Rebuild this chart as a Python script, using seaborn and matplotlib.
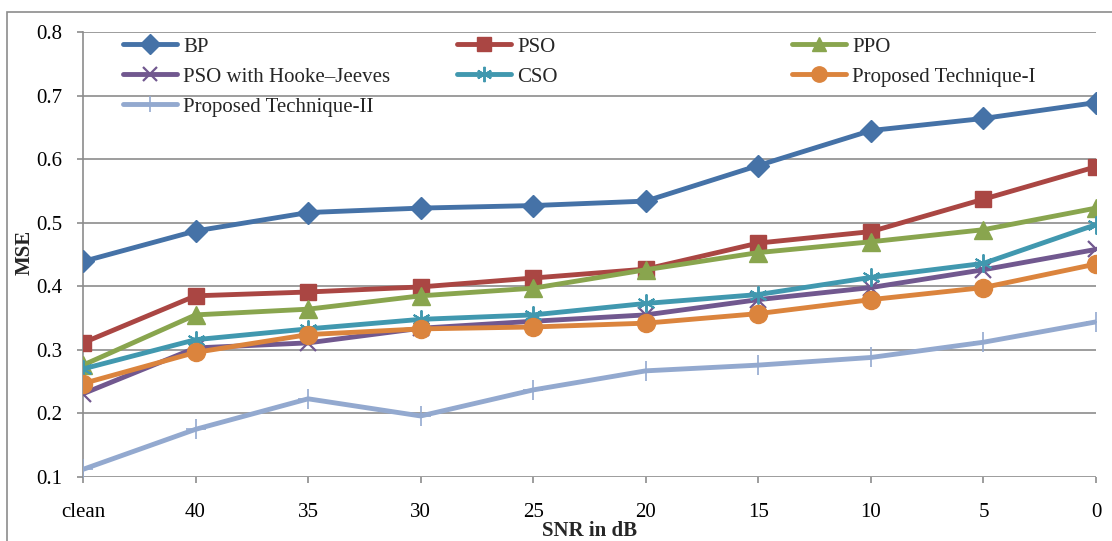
import matplotlib
matplotlib.use("Agg")
import matplotlib.pyplot as plt
import seaborn as sns
import numpy as np
import pandas as pd
from matplotlib.patches import Rectangle

categories = ["clean", "40", "35", "30", "25", "20", "15", "10", "5", "0"]
bp = [0.439, 0.487, 0.516, 0.523, 0.527, 0.534, 0.590, 0.645, 0.664, 0.689]
pso = [0.311, 0.385, 0.391, 0.399, 0.413, 0.427, 0.468, 0.486, 0.537, 0.588]
ppo = [0.276, 0.355, 0.364, 0.385, 0.397, 0.426, 0.453, 0.470, 0.489, 0.523]
psohj = [0.231, 0.303, 0.311, 0.334, 0.345, 0.355, 0.379, 0.398, 0.426, 0.458]
cso = [0.270, 0.316, 0.333, 0.348, 0.355, 0.373, 0.387, 0.414, 0.436, 0.497]
pt1 = [0.247, 0.296, 0.324, 0.333, 0.336, 0.342, 0.357, 0.379, 0.398, 0.435]
pt2 = [0.112, 0.175, 0.223, 0.196, 0.237, 0.267, 0.276, 0.288, 0.312, 0.344]

names = ["BP", "PSO", "PPO", "PSO with Hooke\u2013Jeeves", "CSO",
         "Proposed Technique-I", "Proposed Technique-II"]
series = [bp, pso, ppo, psohj, cso, pt1, pt2]
colors = ["#4572A7", "#AA4643", "#89A54E", "#71588F", "#4198AF", "#DB843D", "#93A9CF"]
markers = ["D", "s", "^", "x", (6, 2, 0), "o", "+"]
msizes = [11.5, 12, 12.5, 12, 13, 13, 14]
mews = [1, 1, 1, 1.6, 1.4, 1, 1.2]

FS = 15
sns.set_theme(style="white")
plt.rcParams["font.family"] = ["Liberation Serif", "DejaVu Serif"]
plt.rcParams["font.size"] = FS

fig = plt.figure(figsize=(11.12, 5.41), dpi=100)
ax = fig.add_axes([83/1112, 1-477/541, (1096-83)/1112, (477-32)/541])

xi = np.arange(len(categories))
for name, vals, c, m, ms, mw in zip(names, series, colors, markers, msizes, mews):
    df = pd.DataFrame({"x": xi, "y": vals})
    sns.lineplot(data=df, x="x", y="y", ax=ax, color=c, marker=m, markersize=ms,
                 markeredgecolor=c, markerfacecolor=c, markeredgewidth=mw,
                 linewidth=3.5, label=name, zorder=3)

ax.set_xlim(0, len(categories) - 1)
ax.set_ylim(0.1, 0.8)
ax.set_yticks(np.arange(0.1, 0.81, 0.1))
ax.set_yticklabels([f"{v:.1f}" for v in np.arange(0.1, 0.81, 0.1)])
ax.set_xticks(xi)
ax.set_xticklabels(categories)

gridc = "#8C8C8C"
ax.yaxis.grid(True, color=gridc, linewidth=1.2)
ax.xaxis.grid(False)
for s in ["top", "right", "bottom"]:
    ax.spines[s].set_visible(False)
ax.spines["left"].set_color(gridc)
ax.spines["left"].set_linewidth(1.2)
ax.tick_params(axis="both", which="both", direction="out", length=4, width=1.2,
               color=gridc, labelsize=FS, labelcolor="black")
ax.tick_params(axis="x", pad=15, bottom=True)
ax.tick_params(axis="y", pad=11, left=True)
ax.set_axisbelow(True)

ax.set_xlabel("SNR in dB", fontsize=FS, fontweight="bold")
ax.xaxis.set_label_coords(0.5, -0.1)
ax.set_ylabel("MSE", fontsize=FS, fontweight="bold")
ax.yaxis.set_label_coords(-0.058, 0.505)
ax.yaxis.label.set_va("center")

handles, labels = ax.get_legend_handles_labels()
if ax.get_legend():
    ax.get_legend().remove()
groups = [[0, 3, 6], [1, 4], [2, 5]]
xs = [123/1112, 457/1112, 792/1112]
for g, x0 in zip(groups, xs):
    fig.legend([handles[i] for i in g], [labels[i] for i in g],
               loc="upper left", bbox_to_anchor=(x0, 1-37/541),
               frameon=False, fontsize=FS, borderpad=0, borderaxespad=0,
               handlelength=2.6, handletextpad=0.3, labelspacing=0.5,
               markerscale=0.85)

fig.patches.append(Rectangle((7/1112, -0.1), 1.2, 1.1 - 12/541,
                             transform=fig.transFigure, fill=False,
                             edgecolor="#8C8C8C", linewidth=1.2))

fig.savefig("out.png", dpi=100)
